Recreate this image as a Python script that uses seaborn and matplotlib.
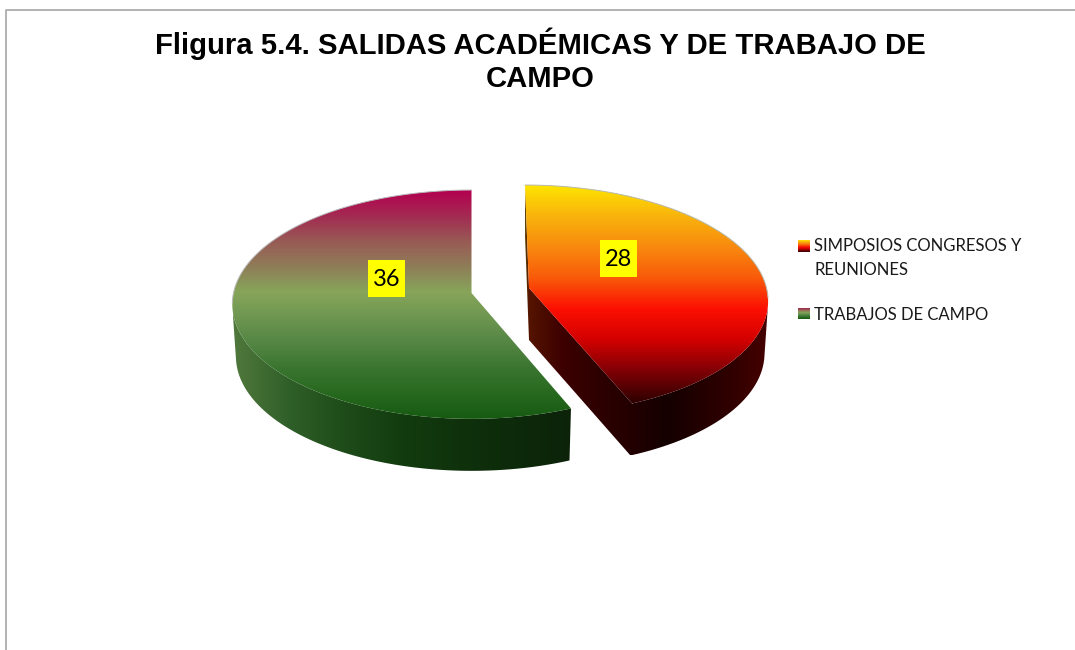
import numpy as np
import seaborn as sns
import matplotlib
matplotlib.use('Agg')
import matplotlib.pyplot as plt
from matplotlib.patches import Polygon, Rectangle

# data
categories = ['SIMPOSIOS CONGRESOS Y\nREUNIONES', 'TRABAJOS DE CAMPO']
values = [28, 36]
title = 'Fligura 5.4. SALIDAS ACADÉMICAS Y DE TRABAJO DE\nCAMPO'

# gradients, top to bottom of each slice, left to right on the walls
top_colors = [
    ['#FFE600', '#F9B40C', '#F88A0E', '#F95A0A', '#FC0F02', '#D20000', '#7E0006', '#2E0000'],
    ['#B40050', '#A32A52', '#985A55', '#8F7D58', '#87A55A', '#6E9650', '#558644', '#3A7530', '#27691E', '#175A12'],
]
wall_colors = [
    ['#551400', '#3C0000', '#2E0000', '#230000', '#140000', '#230000', '#320000', '#460000'],
    ['#50783C', '#2F5F28', '#1E4B19', '#123C0F', '#0F320C', '#0D2A0A', '#0C230A'],
]

# apex x, apex y, radius x, radius y, lean of each slice
slices = [(529, 288, 237.5, 114.4, 4), (471.5, 293, 238, 114.4, 0)]
perspective = 0.1
depth = 52
shrink = 0.985


def rim(t, cx, cy, rx, ry, lean, lower=False):
    r = np.radians(t)
    s = 1 - perspective*np.cos(r)
    dx = rx*np.sin(r)*s - lean*np.cos(r)
    y = cy - ry*np.cos(r)*s
    if lower:
        return np.column_stack([cx + dx*shrink, y + depth])
    return np.column_stack([cx + dx, y])


def fill(ax, points, colors, vertical):
    cmap = sns.blend_palette(colors, as_cmap=True)
    x0, x1 = points[:, 0].min(), points[:, 0].max()
    y0, y1 = points[:, 1].min(), points[:, 1].max()
    ramp = np.linspace(0, 1, 256)
    ramp = ramp[:, None] if vertical else ramp[None, :]
    img = ax.imshow(ramp, cmap=cmap, vmin=0, vmax=1, aspect='auto',
                    extent=(x0, x1, y1, y0), interpolation='bilinear')
    patch = Polygon(points, closed=True, transform=ax.transData, facecolor='none', edgecolor='none')
    ax.add_patch(patch)
    img.set_clip_path(patch)


def main():
    sns.set_theme(style='white')
    fig = plt.figure(figsize=(10.75, 6.5), dpi=100)
    ax = fig.add_axes([0, 0, 1, 1])
    ax.set_axis_off()

    ax.plot([6, 6, 1075], [650, 9.5, 9.5], color='#A6A6A6', lw=1.2)

    angles = np.concatenate([[0], np.cumsum(values)/np.sum(values)*360])

    # yellow slice
    t0, t1 = angles[0], angles[1]
    p = slices[0]
    apex = np.array([[p[0], p[1]]])
    apex_low = apex + [0, depth]
    fill(ax, np.vstack([rim(t0, *p), rim(t0, *p, lower=True), apex_low, apex]), ['#5A4000', '#551400'], False)
    arc = np.linspace(t1, 98, 80)
    fill(ax, np.vstack([apex, rim(arc, *p), rim(arc[::-1], *p, lower=True), apex_low]), wall_colors[0], False)
    ts = np.linspace(t0, t1, 200)
    fill(ax, np.vstack([apex, rim(ts, *p)]), top_colors[0], True)
    back = rim(np.linspace(t0, 95, 80), *p)
    ax.plot(back[:, 0], back[:, 1], color='#B8B8A8', lw=0.7)

    # green slice
    t0, t1 = angles[1], angles[2]
    p = slices[1]
    apex = np.array([[p[0], p[1]]])
    arc = np.linspace(t0, 262, 120)
    fill(ax, np.vstack([rim(arc, *p), rim(arc[::-1], *p, lower=True)]), wall_colors[1], False)
    ts = np.linspace(t0, t1, 200)
    fill(ax, np.vstack([apex, rim(ts, *p)]), top_colors[1], True)
    back = rim(np.linspace(265, t1, 80), *p)
    ax.plot(back[:, 0], back[:, 1], color='#B8B8B8', lw=0.7)

    # value labels
    label_font = ['Lato', 'DejaVu Sans']
    for v, (lx, ly) in zip(values, [(618.5, 258.5), (386.5, 278.5)]):
        ax.add_patch(Rectangle((lx - 18.5, ly - 18.5), 37, 37, facecolor='#FFFF00', edgecolor='none'))
        ax.text(lx, ly + 1, str(v), ha='center', va='center', fontsize=17, family=label_font, color='black')

    # legend
    for i, (name, ly) in enumerate(zip(categories, [246, 313.5])):
        y = ly - 6
        square = np.array([[798, y], [810, y], [810, y + 12], [798, y + 12]], dtype=float)
        fill(ax, square, top_colors[i], True)
        ax.text(814, ly + (12 if i == 0 else 1), name, ha='left', va='center', fontsize=12,
                family=label_font, color='#1A1A1A', linespacing=1.62)

    ax.text(540.5, 60, title, ha='center', va='center', fontsize=21.1, fontweight='bold',
            family='Liberation Sans', color='black', linespacing=1.22)

    ax.set_xlim(0, 1075)
    ax.set_ylim(650, 0)
    fig.savefig('out.png', dpi=100, facecolor='white')


if __name__ == '__main__':
    main()
